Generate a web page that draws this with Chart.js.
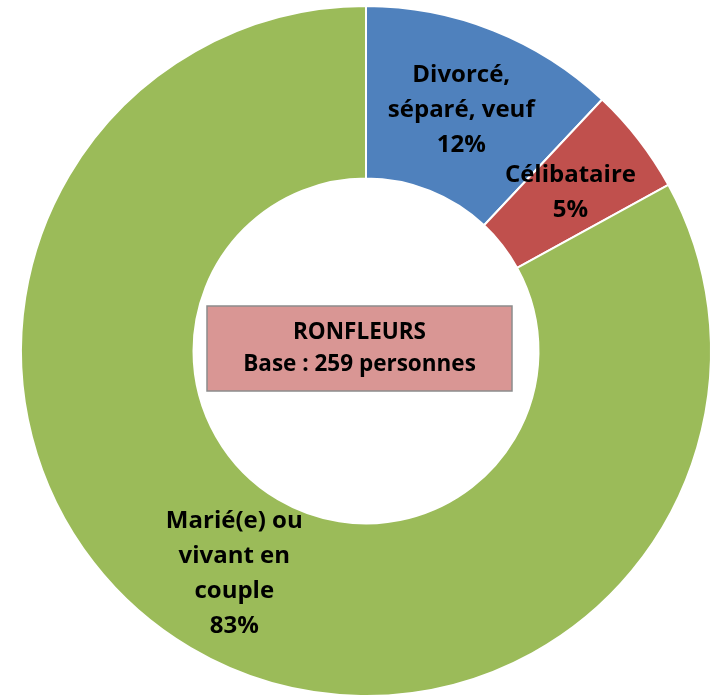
<!DOCTYPE html>
<html>
<head>
<meta charset="utf-8">
<script src="https://cdn.jsdelivr.net/npm/chart.js@4.4.0/dist/chart.umd.min.js"></script>
<style>
  html, body { margin: 0; padding: 0; background: #fff; overflow: hidden; }
</style>
</head>
<body>
<canvas id="ronfleursChart" width="740" height="720"></canvas>
<script>
// Situation familiale des ronfleurs
const categories = [["Divorcé,", "séparé, veuf"], ["Célibataire"], ["Marié(e) ou", "vivant en", "couple"]];
const pourcentages = [12, 5, 83];
const couleurs = ['#4F81BD', '#C0504D', '#9BBB59'];
const titreCentre = ["RONFLEURS", "Base : 259 personnes"];

// Étiquettes dans les segments + encadré central
const etiquettes = {
    id: 'etiquettes',
    afterDraw(chart) {
        const ctx = chart.ctx;
        const meta = chart.getDatasetMeta(0);
        ctx.save();
        ctx.fillStyle = '#000';
        ctx.textAlign = 'center';
        ctx.textBaseline = 'middle';
        ctx.font = 'bold 24px "Open Sans"';
        meta.data.forEach((arc, i) => {
            const p = arc.tooltipPosition();
            const lignes = categories[i].concat([pourcentages[i] + '%']);
            const lh = 35;
            const y0 = p.y - (lignes.length - 1) * lh / 2;
            lignes.forEach((t, j) => ctx.fillText(t, p.x, y0 + j * lh));
        });

        // encadré central
        const cx = meta.data[0].x, cy = meta.data[0].y;
        const w = 305, h = 85;
        const bx = cx - 159, by = cy - 45;
        ctx.fillStyle = '#D99694';
        ctx.fillRect(bx, by, w, h);
        ctx.strokeStyle = '#8C8C8C';
        ctx.lineWidth = 1.5;
        ctx.strokeRect(bx, by, w, h);
        ctx.fillStyle = '#000';
        ctx.font = 'bold 22.5px "Open Sans"';
        ctx.fillText(titreCentre[0], bx + w / 2, by + 27);
        ctx.fillText(titreCentre[1], bx + w / 2, by + 59);
        ctx.restore();
    }
};

const ctx = document.getElementById('ronfleursChart').getContext('2d');
const ronfleursChart = new Chart(ctx, {
    type: 'doughnut',
    data: {
        labels: categories.map(c => c.join(' ')),
        datasets: [{
            data: pourcentages,
            backgroundColor: couleurs,
            borderColor: '#fff',
            borderWidth: 2
        }]
    },
    options: {
        responsive: false,
        animation: false,
        cutout: '50%',
        layout: { padding: { left: 20, top: 5, right: 28, bottom: 23 } },
        plugins: {
            legend: { display: false },
            tooltip: { enabled: false }
        }
    },
    plugins: [etiquettes]
});
</script>
</body>
</html>
